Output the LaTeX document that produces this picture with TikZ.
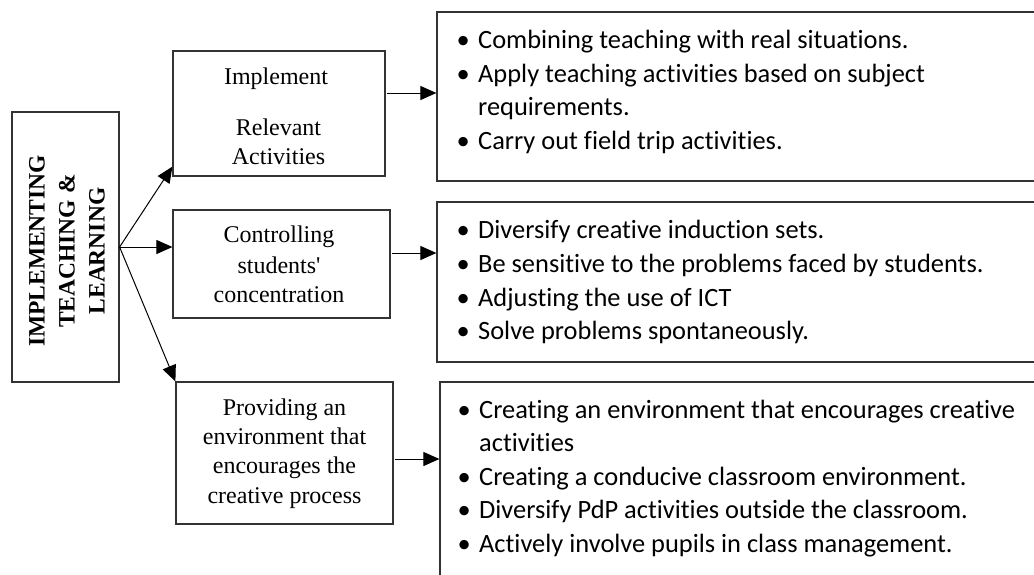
\documentclass[tikz,border=0pt]{standalone}
\usepackage{fontspec}
\setmainfont{Liberation Serif}
\newfontfamily\calfont[Ligatures={NoCommon}]{Carlito}
\usetikzlibrary{arrows.meta}
\begin{document}
\begin{tikzpicture}[x=1pt,y=-1pt,
  box/.style={draw=black!80, line width=1.2pt, inner sep=0pt},
  arr/.style={line width=1pt, -{Triangle[length=16pt,width=14pt]}},
  ltext/.style={font=\fontsize{24}{29}\selectfont, anchor=base, inner sep=0pt},
  rtext/.style={font=\calfont\fontsize{26.4}{34}\selectfont, anchor=base west, inner sep=0pt}]
\path[use as bounding box] (0,0) rectangle (1034,574);
\fill[white] (0,0) rectangle (1034,574);
\begin{scope}
\clip (0,0) rectangle (1034,574);
% main box
\node[box, minimum width=107pt, minimum height=270pt] (main) at (65.5,247) {};
\node[rotate=90, font=\bfseries\fontsize{23.5}{30}\selectfont, align=center, inner sep=0pt] (maintxt) at (67,251) {IMPLEMENTING\\TEACHING \&\\LEARNING};
% middle boxes
\node[box, minimum width=212pt, minimum height=125pt] (b1) at (279,113.5) {};
\node[box, minimum width=217pt, minimum height=108pt] (b2) at (281.5,264) {};
\node[box, minimum width=217pt, minimum height=142pt] (b3) at (284.5,453) {};
% right boxes (cut by the picture edge)
\node[box, minimum width=613pt, minimum height=169pt] (r1) at (743.5,96.5) {};
\node[box, minimum width=613pt, minimum height=160pt] (r2) at (743.5,282) {};
\node[box, minimum width=610pt, minimum height=238pt] (r3) at (745,501) {};
% middle texts
\node[ltext] (b1a) at (276,84) {Implement};
\node[ltext] (b1b) at (278.5,135) {Relevant};
\node[ltext] (b1c) at (278.5,164) {Activities};
\node[ltext] (b2a) at (279,242) {Controlling};
\node[ltext] (b2b) at (279,273) {students\textquotesingle};
\node[ltext] (b2c) at (279,302) {concentration};
\node[ltext] (b3a) at (284.5,415) {Providing an};
\node[ltext] (b3b) at (284.5,444) {environment that};
\node[ltext] (b3c) at (284.5,473) {encourages the};
\node[ltext] (b3d) at (284.5,503) {creative process};
% right texts
\node[rtext] (r1a) at (478,48) {\llap{\makebox[30pt]{•}}Combining teaching with real situations.};
\node[rtext] (r1b) at (478,82) {\llap{\makebox[30pt]{•}}Apply teaching activities based on subject};
\node[rtext] (r1c) at (478,115) {requirements.};
\node[rtext] (r1d) at (478,149) {\llap{\makebox[30pt]{•}}Carry out field trip activities.};
\node[rtext] (r2a) at (478,238) {\llap{\makebox[30pt]{•}}Diversify creative induction sets.};
\node[rtext] (r2b) at (478,272) {\llap{\makebox[30pt]{•}}Be sensitive to the problems faced by students.};
\node[rtext] (r2c) at (478,306) {\llap{\makebox[30pt]{•}}Adjusting the use of ICT};
\node[rtext] (r2d) at (478,339) {\llap{\makebox[30pt]{•}}Solve problems spontaneously.};
\node[rtext] (r3a) at (479,418) {\llap{\makebox[30pt]{•}}Creating an environment that encourages creative};
\node[rtext] (r3b) at (479,451) {activities};
\node[rtext] (r3c) at (479,485) {\llap{\makebox[30pt]{•}}Creating a conducive classroom environment.};
\node[rtext] (r3d) at (479,518) {\llap{\makebox[30pt]{•}}Diversify PdP activities outside the classroom.};
\node[rtext] (r3e) at (479,552) {\llap{\makebox[30pt]{•}}Actively involve pupils in class management.};
\end{scope}
% connectors
\draw[arr] (main.east) -- ([yshift=10pt]b1.south west);
\draw[arr] (main.east) -- (main.east -| b2.west);
\draw[arr] (main.east) -- (b3.north west);
\path ([yshift=20.5pt]b1.east) coordinate (s1);
\path ([yshift=11pt]b2.east) coordinate (s2);
\path ([yshift=-6pt]b3.east) coordinate (s3);
\draw[arr] ([xshift=1pt]s1) -- (s1 -| r1.west);
\draw[arr] ([xshift=1pt]s2) -- (s2 -| r2.west);
\draw[arr] ([xshift=1pt]s3) -- (s3 -| r3.west);
\end{tikzpicture}
\end{document}
